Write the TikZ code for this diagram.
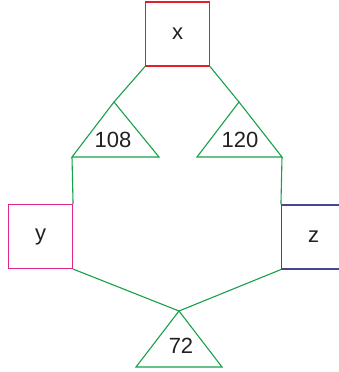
\documentclass[tikz,border=0pt]{standalone}
\usepackage{fontspec}
\setmainfont{Liberation Sans}
\definecolor{cred}{HTML}{E2202C}
\definecolor{cmag}{HTML}{E0268C}
\definecolor{cblue}{HTML}{474596}
\definecolor{cgreen}{HTML}{17A04A}
\definecolor{ctext}{HTML}{231F20}
\begin{document}
\begin{tikzpicture}[x=1pt,y=-1pt,
  box/.style={draw=#1,line width=1.1pt,minimum width=64pt,minimum height=64pt,inner sep=0pt,
    font=\fontsize{22}{26}\selectfont,text=ctext},
  conn/.style={draw=cgreen,line width=1.1pt},
  num/.style={font=\fontsize{22}{26}\selectfont,text=ctext,inner sep=0pt}]
\path[use as bounding box] (0,0) rectangle (339,372);
\begin{scope}
\clip (0,0) rectangle (339,372);
\node[box=cred] (X) at (177.5,34) {x};
\node[box=cmag] (Y) at (40.5,236.5) {y};
\node[box=cblue] (Z) at (313.5,237) {z};
% triangles
\coordinate (A1) at (114,102); \coordinate (L1) at (72,157); \coordinate (R1) at (159,157);
\coordinate (A2) at (239,102); \coordinate (L2) at (197,157); \coordinate (R2) at (282,157);
\coordinate (A3) at (179,311); \coordinate (L3) at (136,367); \coordinate (R3) at (222,367);
\draw[conn,line join=miter] (A1) -- (L1) -- (R1) -- cycle;
\draw[conn,line join=miter] (A2) -- (L2) -- (R2) -- cycle;
\draw[conn,line join=miter] (A3) -- (L3) -- (R3) -- cycle;
\node[num] (n108) at (113,140) {108};
\node[num] (n120) at (240,140) {120};
\node[num] (n72) at (181,346) {72};
% connectors
\draw[conn] (X.south west) -- (A1);
\draw[conn] (X.south east) -- (A2);
\draw[conn] (L1) -- (Y.north east);
\draw[conn] (R2) -- (Z.north west);
\draw[conn] (Y.south east) -- (A3);
\draw[conn] (Z.south west) -- (A3);
\end{scope}
\end{tikzpicture}
\end{document}
